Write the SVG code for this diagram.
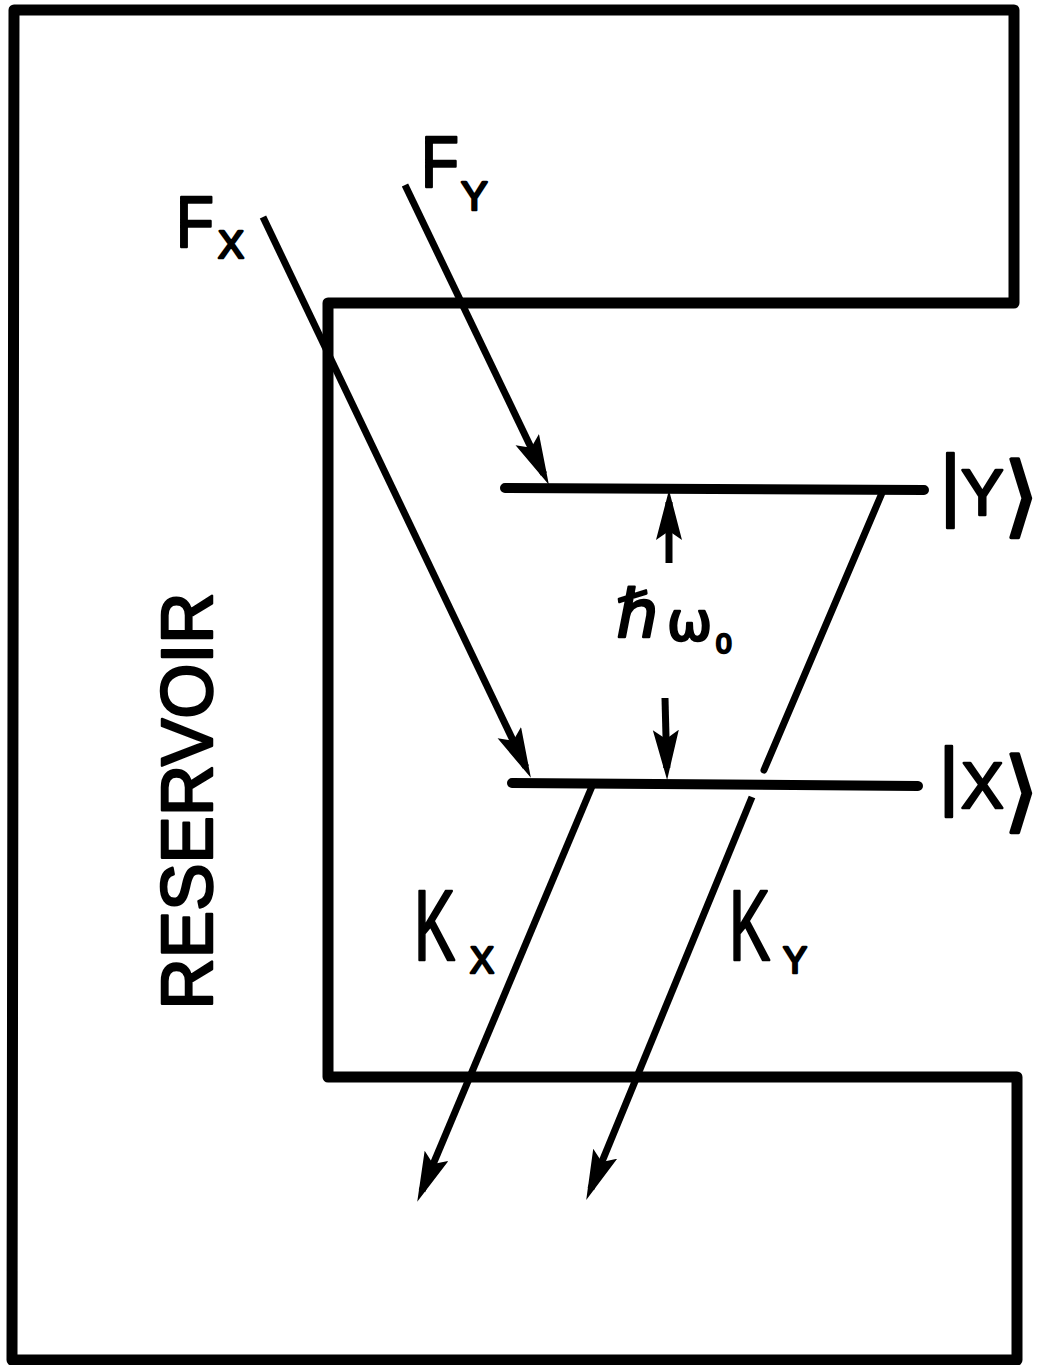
<svg xmlns="http://www.w3.org/2000/svg" width="1039" height="1365" viewBox="0 0 1039 1365">
<style>
.box{fill:none;stroke:#000;stroke-width:11;stroke-linejoin:round;stroke-linecap:round}
.lvl{fill:none;stroke:#000;stroke-width:10;stroke-linecap:round}
.arr{fill:none;stroke:#000;stroke-width:7;stroke-linecap:round}
.arrh{fill:none;stroke:#000;stroke-width:7;stroke-linecap:butt;marker-end:url(#ah)}
.t{font-family:"Liberation Sans","DejaVu Sans",sans-serif;fill:#000;stroke:#000;stroke-width:2.5;stroke-linejoin:round}
.s{font-family:"DejaVu Sans","Liberation Sans",sans-serif;fill:#000;stroke:#000;stroke-width:2.5;stroke-linejoin:round}
.b{stroke-width:3.5}
</style>
<defs>
<marker id="ah" markerUnits="userSpaceOnUse" markerWidth="52" markerHeight="28" refX="38" refY="13" orient="auto" viewBox="0 0 52 28">
<path d="M0,0 L50,13 L0,26 L9,13 Z" fill="#000"/>
</marker>
</defs>
<rect width="1039" height="1365" fill="#fff"/>
<g id="reservoir">
<path class="box" d="M14,10 H1014 V303 H328 V1077 H1017 V1360 H12 Z"/>
<text class="t" font-size="72" text-anchor="middle" textLength="417" lengthAdjust="spacingAndGlyphs" transform="translate(212,801) rotate(-90)">RESERVOIR</text>
</g>
<g id="level-Y">
<line class="lvl" x1="505" y1="488" x2="924" y2="490"/>
<text class="t" font-size="80" x="940" y="511">|</text>
<text class="t" font-size="64" x="961" y="515">Y</text>
<text class="s b" font-size="88" x="1004" y="526">⟩</text>
</g>
<g id="level-X">
<line class="lvl" x1="512" y1="783" x2="918" y2="786"/>
<text class="t" font-size="76" x="939" y="801">|</text>
<text class="t" font-size="64" x="961" y="808">X</text>
<text class="s b" font-size="88" x="1004" y="821">⟩</text>
</g>
<g id="label-FX">
<text class="t" font-size="73" transform="translate(176,247) scale(0.85,1)">F</text>
<text class="t" font-size="39" x="218" y="258">X</text>
</g>
<g id="label-FY">
<text class="t" font-size="73" transform="translate(421,187) scale(0.85,1)">F</text>
<text class="t" font-size="40" x="461" y="210">Y</text>
</g>
<g id="label-hw">
<text class="s" font-size="66" x="616" y="637">ℏ</text>
<text class="s" font-size="54" x="667" y="640">ω</text>
<text class="t" font-size="28" x="716" y="653">0</text>
</g>
<g id="label-KX">
<text class="t" font-size="100" transform="translate(414,960) scale(0.62,1)">K</text>
<text class="t" font-size="36" x="470" y="973">X</text>
</g>
<g id="label-KY">
<text class="t" font-size="100" transform="translate(729,960) scale(0.62,1)">K</text>
<text class="t" font-size="36" x="783" y="973">Y</text>
</g>
<g id="connectors">
<line class="arrh" x1="405" y1="185" x2="543.7" y2="474"/>
<line class="arrh" x1="263" y1="217" x2="525.7" y2="767"/>
<line class="arrh" x1="669" y1="563" x2="669" y2="502"/>
<line class="arrh" x1="665" y1="698" x2="666.8" y2="768"/>
<line class="arrh" x1="593" y1="784" x2="421.9" y2="1190.8"/>
<line class="arr" x1="882" y1="493" x2="764" y2="770"/>
<line class="arrh" x1="752" y1="797" x2="590.8" y2="1188.8"/>
</g>
</svg>
